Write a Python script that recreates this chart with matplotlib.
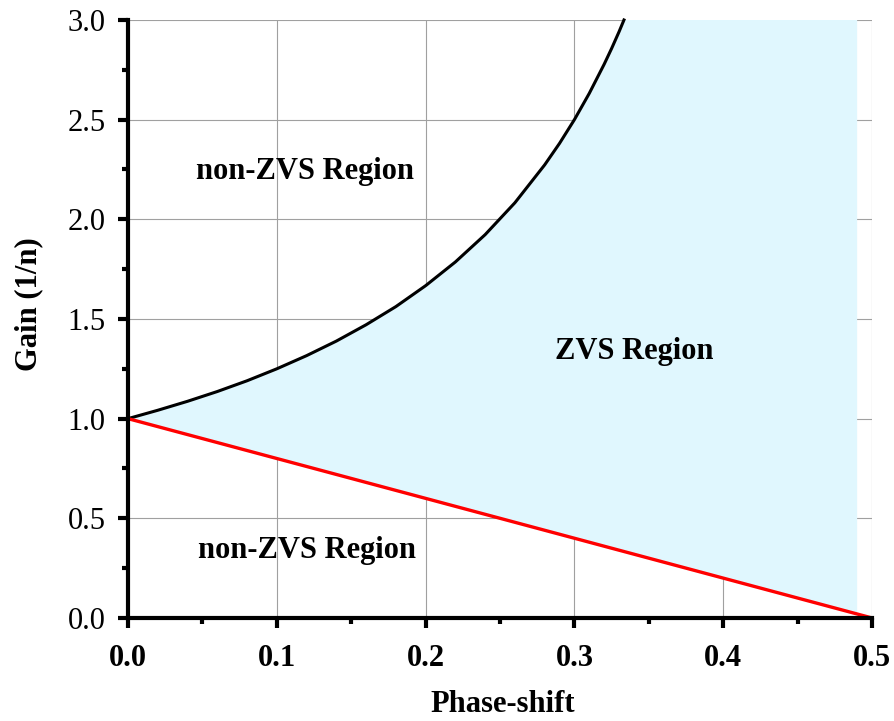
import numpy as np
import matplotlib
matplotlib.use("Agg")
import matplotlib.pyplot as plt
from matplotlib.ticker import MultipleLocator

## Data
# ZVS boundary (upper, black)
phase_upper = [0.0, 0.02, 0.04, 0.06, 0.08, 0.10, 0.12, 0.14, 0.16, 0.18,
               0.20, 0.22, 0.24, 0.26, 0.28, 0.29, 0.30, 0.31, 0.32, 0.325,
               0.33, 0.3333]
gain_upper = [1.0, 1.042, 1.087, 1.136, 1.190, 1.25, 1.316, 1.389, 1.471,
              1.562, 1.667, 1.786, 1.923, 2.083, 2.273, 2.381, 2.5, 2.632,
              2.778, 2.857, 2.941, 3.0]
# ZVS boundary (lower, red)
phase_lower = [0.0, 0.5]
gain_lower = [1.0, 0.0]
# right edge of shaded region
fill_end = 0.49

plt.rcParams["font.family"] = ["Liberation Serif", "DejaVu Serif"]

fig = plt.figure(figsize=(8.94, 7.21), dpi=100)
ax = fig.add_axes([0.1432, 0.1429, 0.8322, 0.8294])

# shaded ZVS region
low_end = np.interp(fill_end, phase_lower, gain_lower)
poly_x = phase_upper + [fill_end, fill_end]
poly_y = gain_upper + [3.0, low_end]
ax.fill(poly_x, poly_y, color="#e0f7fe", lw=0, zorder=1)

ax.plot(phase_upper, gain_upper, color="black", lw=2.2, zorder=3,
        clip_on=False, solid_joinstyle="round")
ax.plot(phase_lower, gain_lower, color="red", lw=2.4, zorder=3, clip_on=False)

ax.set_xlim(0, 0.5)
ax.set_ylim(0, 3.0)
ax.xaxis.set_major_locator(MultipleLocator(0.1))
ax.xaxis.set_minor_locator(MultipleLocator(0.05))
ax.yaxis.set_major_locator(MultipleLocator(0.5))
ax.yaxis.set_minor_locator(MultipleLocator(0.25))

ax.grid(True, which="major", color="#a0a0a0", lw=0.8, zorder=0)
ax.set_axisbelow(True)

for s in ["top", "right"]:
    ax.spines[s].set_visible(False)
for s in ["left", "bottom"]:
    ax.spines[s].set_linewidth(3)
    ax.spines[s].set_zorder(4)

ax.tick_params(which="major", direction="out", length=7, width=3)
ax.tick_params(which="minor", direction="out", length=4, width=3)
ax.tick_params(axis="y", labelsize=22, pad=9)
ax.tick_params(axis="x", labelsize=22, pad=12)
ax.set_xticklabels([f"{v:.1f}" for v in ax.get_xticks()], fontweight="bold")
ax.set_yticklabels([f"{v:.1f}" for v in ax.get_yticks()])

ax.set_xlabel("Phase-shift", fontsize=22, fontweight="bold")
ax.set_ylabel("Gain (1/n)", fontsize=22, fontweight="bold")
ax.xaxis.set_label_coords(0.504, -0.12)
ax.yaxis.set_label_coords(-0.114, 0.525)

ax.text(0.119, 2.24, "non-ZVS Region", fontsize=22, fontweight="bold",
        ha="center", va="center", zorder=5)
ax.text(0.34, 1.335, "ZVS Region", fontsize=22, fontweight="bold",
        ha="center", va="center", zorder=5)
ax.text(0.12, 0.336, "non-ZVS Region", fontsize=22, fontweight="bold",
        ha="center", va="center", zorder=5)

fig.savefig("out.png", dpi=100)
